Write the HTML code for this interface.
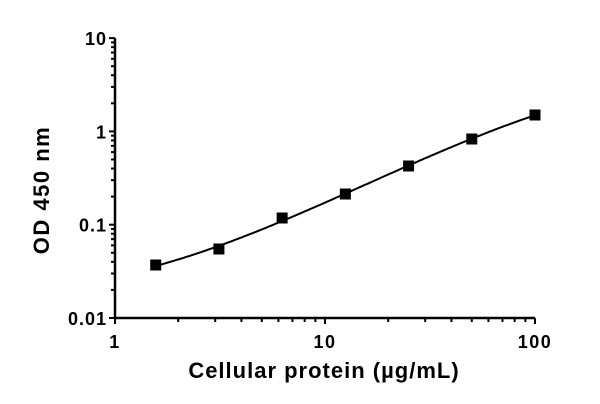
<!DOCTYPE html><html><head><style>body{margin:0;background:#fff}svg{display:block}text{font-family:"Liberation Sans",Arial,sans-serif;font-weight:bold;fill:#000}</style></head><body>
<svg id="s" width="600" height="404" viewBox="0 0 600 404"></svg>
<script>
const s=document.getElementById('s');let h='';
const X0=115,DX=210,Y0=318,DY=93.3;
const px=v=>X0+Math.log10(v)*DX, py=v=>Y0-(Math.log10(v)+2)*DY;
h+=`<line x1="${X0}" y1="${py(10)}" x2="${X0}" y2="${Y0}" stroke="#000" stroke-width="2.5"/>`;
h+=`<line x1="${X0}" y1="${Y0}" x2="${px(100)}" y2="${Y0}" stroke="#000" stroke-width="2.5"/>`;
for(let d=-2;d<=1;d++){for(let m=1;m<=9;m++){if(d==1&&m>1)break;const y=py(m*Math.pow(10,d));const L=m==1?6:4;h+=`<line x1="${X0-L}" y1="${y}" x2="${X0}" y2="${y}" stroke="#000" stroke-width="2"/>`;}}
for(let d=0;d<=2;d++){for(let m=1;m<=9;m++){if(d==2&&m>1)break;const x=px(m*Math.pow(10,d));const L=m==1?6:4;h+=`<line x1="${x}" y1="${Y0}" x2="${x}" y2="${Y0+L}" stroke="#000" stroke-width="2"/>`;}}
[[10,'10'],[1,'1'],[0.1,'0.1'],[0.01,'0.01']].forEach(([v,t])=>h+=`<text x="${X0-8}" y="${py(v)+7}" font-size="18" letter-spacing="1" text-anchor="end">${t}</text>`);
[[1,'1'],[10,'10'],[100,'100']].forEach(([v,t])=>h+=`<text x="${px(v)}" y="${Y0+30}" font-size="18" letter-spacing="1.5" text-anchor="middle">${t}</text>`);
h+=`<text x="324" y="378" font-size="22" letter-spacing="1" text-anchor="middle">Cellular protein (µg/mL)</text>`;
h+=`<text transform="translate(49,190) rotate(-90)" font-size="22" letter-spacing="1.5" text-anchor="middle">OD 450 nm</text>`;
const raw=[[1.5625,265],[3.125,249],[6.25,218],[12.5,194],[25,166],[50,139],[100,115]];
const pts=raw.map(([x,y])=>[px(x),y]);
const n=4,A=[],B=[];for(let i=0;i<n;i++){A.push(new Array(n).fill(0));B.push(0);}
const xs=pts.map(p=>(p[0]-325)/210);
pts.forEach((p,k)=>{for(let i=0;i<n;i++){B[i]+=Math.pow(xs[k],i)*p[1];for(let j=0;j<n;j++)A[i][j]+=Math.pow(xs[k],i+j);}});
for(let i=0;i<n;i++){for(let r=i+1;r<n;r++){const f=A[r][i]/A[i][i];for(let c=i;c<n;c++)A[r][c]-=f*A[i][c];B[r]-=f*B[i];}}
const C=new Array(n);for(let i=n-1;i>=0;i--){let v=B[i];for(let j=i+1;j<n;j++)v-=A[i][j]*C[j];C[i]=v/A[i][i];}
let d='';for(let x=pts[0][0];x<=pts[6][0]+0.01;x+=2){const t=(x-325)/210;let y=0;for(let i=0;i<n;i++)y+=C[i]*Math.pow(t,i);d+=(d?'L':'M')+x.toFixed(1)+','+y.toFixed(1);}
h+=`<path d="${d}" fill="none" stroke="#000" stroke-width="2"/>`;
pts.forEach(([x,y])=>h+=`<rect x="${x-5.5}" y="${y-5.5}" width="11" height="11" fill="#000"/>`);
s.innerHTML=h;
</script></body></html>
